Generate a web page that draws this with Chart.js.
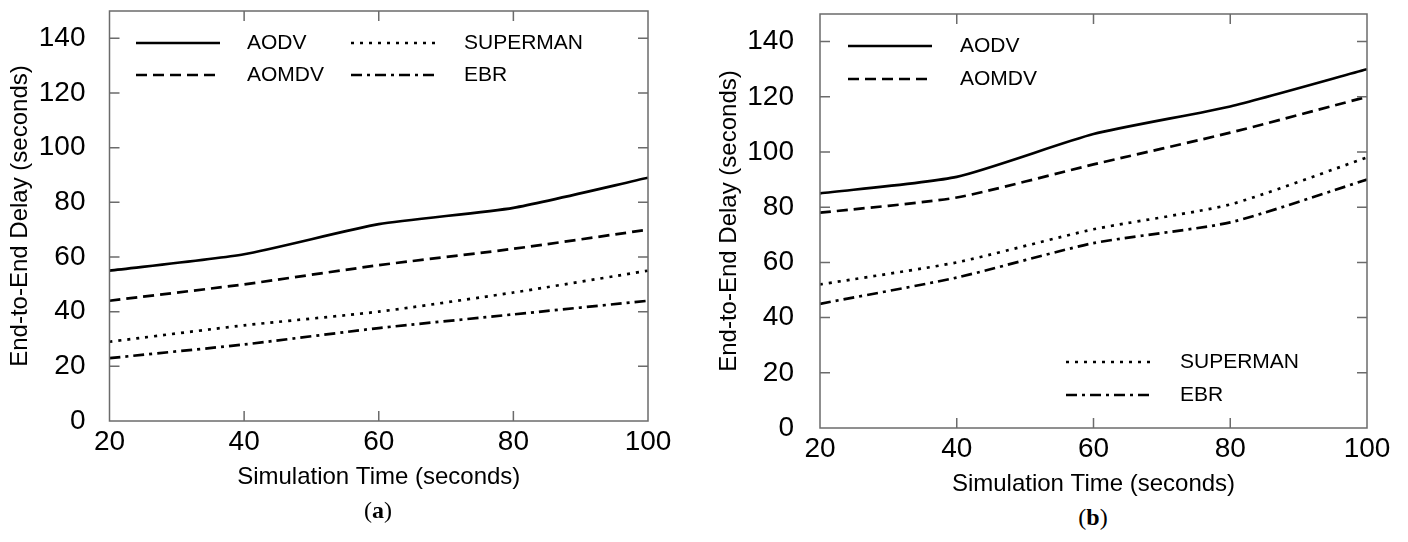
<!DOCTYPE html>
<html>
<head>
<meta charset="utf-8">
<script src="https://cdn.jsdelivr.net/npm/chart.js@4"></script>
<style>
    body { margin: 0; background: #fff; width: 1408px; height: 542px; position: relative; overflow: hidden; }
    .panel { position: absolute; top: 0; height: 500px; }
    .caption { position: absolute; font-family: "Liberation Serif", "DejaVu Serif", serif; font-size: 24px; color: #000; transform: translate(-50%, -50%); }
    .caption b { font-weight: bold; }
</style>
</head>
<body>
<div class="panel" style="left:0;width:700px"><canvas id="chartA" width="700" height="500"></canvas></div>
<div class="panel" style="left:700px;width:708px"><canvas id="chartB" width="708" height="500"></canvas></div>
<div class="caption" style="left:378px;top:510px">(<b>a</b>)</div>
<div class="caption" style="left:1093px;top:517px">(<b>b</b>)</div>
<script>
// simulation time (x axis)
const simTime = [20, 40, 60, 80, 100];
const seriesNames = ['AODV', 'AOMDV', 'SUPERMAN', 'EBR'];

// panel (a)
const aodvA = [55, 61, 72, 78, 89];
const aomdvA = [44, 50, 57, 63, 70];
const supermanA = [29, 35, 40, 47, 55];
const ebrA = [23, 28, 34, 39, 44];

// panel (b)
const aodvB = [85, 91, 106.5, 116.5, 130];
const aomdvB = [78, 83.5, 95.5, 107, 120];
const supermanB = [52, 60, 72, 81, 98];
const ebrB = [45, 54.5, 67, 74.5, 90];

const yMax = 150;
const yStep = 20;
const xTitle = 'Simulation Time (seconds)';
const yTitle = 'End-to-End Delay (seconds)';

const FONT = '"Liberation Sans", Arial, sans-serif';
const AXIS_COLOR = '#6b6b6b';

const dashes = [[], [11, 6], [3, 6], [11, 5, 3, 5]];

function toPoints(vals) {
    return vals.map((v, i) => ({ x: simTime[i], y: v }));
}

function makeDatasets(series) {
    return series.map((vals, i) => ({
        label: seriesNames[i],
        data: toPoints(vals),
        borderColor: '#000',
        borderWidth: 2.7,
        borderDash: dashes[i],
        borderCapStyle: 'butt',
        pointRadius: 0,
        tension: 0.2,
        fill: false,
    }));
}

// box + inward ticks on all four sides
const frameTicks = {
    id: 'frameTicks',
    afterDatasetsDraw(chart) {
        const { ctx, chartArea: a, scales } = chart;
        const len = 10;
        ctx.save();
        ctx.strokeStyle = AXIS_COLOR;
        ctx.lineWidth = 1.5;
        ctx.setLineDash([]);
        ctx.strokeRect(a.left, a.top, a.right - a.left, a.bottom - a.top);
        ctx.beginPath();
        scales.y.ticks.forEach(t => {
            const y = scales.y.getPixelForValue(t.value);
            if (t.value === 0) return;
            ctx.moveTo(a.left, y); ctx.lineTo(a.left + len, y);
            ctx.moveTo(a.right, y); ctx.lineTo(a.right - len, y);
        });
        scales.x.ticks.forEach(t => {
            const x = scales.x.getPixelForValue(t.value);
            if (t.value === simTime[0] || t.value === simTime[simTime.length - 1]) return;
            ctx.moveTo(x, a.top); ctx.lineTo(x, a.top + len);
            ctx.moveTo(x, a.bottom); ctx.lineTo(x, a.bottom - len);
        });
        ctx.stroke();
        ctx.restore();
    }
};

// legend drawn inside the plot area
const innerLegend = {
    id: 'innerLegend',
    afterDatasetsDraw(chart, args, opts) {
        const { ctx } = chart;
        ctx.save();
        ctx.font = '21px ' + FONT;
        ctx.textBaseline = 'middle';
        ctx.fillStyle = '#000';
        (opts.items || []).forEach(it => {
            const ds = chart.data.datasets[it.ds];
            ctx.strokeStyle = ds.borderColor;
            ctx.lineWidth = ds.borderWidth;
            ctx.lineCap = 'butt';
            ctx.setLineDash(ds.borderDash);
            ctx.beginPath();
            ctx.moveTo(it.x, it.y);
            ctx.lineTo(it.x + opts.sampleLen, it.y);
            ctx.stroke();
            ctx.setLineDash([]);
            ctx.fillText(ds.label, it.x + it.textOff, it.y);
        });
        ctx.restore();
    }
};

function buildChart(id, series, cfg) {
    const ctx = document.getElementById(id);
    return new Chart(ctx, {
        type: 'line',
        data: { datasets: makeDatasets(series) },
        plugins: [frameTicks, innerLegend],
        options: {
            responsive: false,
            animation: false,
            layout: { padding: { left: 0, top: cfg.top, right: cfg.right, bottom: 0 } },
            plugins: {
                legend: { display: false },
                tooltip: { enabled: false },
                innerLegend: { sampleLen: 84, items: cfg.legend },
            },
            scales: {
                x: {
                    type: 'linear',
                    min: simTime[0],
                    max: simTime[simTime.length - 1],
                    grid: { display: false },
                    border: { display: false },
                    ticks: {
                        stepSize: 20,
                        padding: cfg.xPad,
                        color: '#000',
                        font: { family: FONT, size: 28 },
                    },
                    title: {
                        display: true,
                        text: xTitle,
                        color: '#000',
                        font: { family: FONT, size: 24 },
                        padding: { top: 0, bottom: cfg.xTitlePad },
                    },
                    afterFit(scale) {
                        scale.height = cfg.xHeight;
                        scale.paddingLeft = 0;
                        scale.paddingRight = 0;
                    },
                },
                y: {
                    min: 0,
                    max: yMax,
                    grid: { display: false },
                    border: { display: false },
                    ticks: {
                        stepSize: yStep,
                        includeBounds: false,
                        padding: cfg.yPad,
                        color: '#000',
                        font: { family: FONT, size: 28 },
                    },
                    title: {
                        display: true,
                        text: yTitle,
                        color: '#000',
                        font: { family: FONT, size: 24 },
                        padding: { top: cfg.yTitlePad, bottom: 0 },
                    },
                    afterFit(scale) {
                        scale.width = cfg.yWidth;
                        scale.paddingTop = 0;
                        scale.paddingBottom = 0;
                    },
                },
            },
        },
    });
}

buildChart('chartA', [aodvA, aomdvA, supermanA, ebrA], {
    top: 11, right: 52, xHeight: 79, yWidth: 109.5,
    xPad: -4, yPad: 16, xTitlePad: 8, yTitlePad: 6,
    legend: [
        { ds: 0, x: 136, y: 43, textOff: 111 },
        { ds: 1, x: 136, y: 75, textOff: 111 },
        { ds: 2, x: 351, y: 43, textOff: 113 },
        { ds: 3, x: 351, y: 75, textOff: 113 },
    ],
});

buildChart('chartB', [aodvB, aomdvB, supermanB, ebrB], {
    top: 14, right: 41, xHeight: 72, yWidth: 120,
    xPad: -4, yPad: 18, xTitlePad: 1, yTitlePad: 15,
    legend: [
        { ds: 0, x: 148, y: 46, textOff: 112 },
        { ds: 1, x: 148, y: 79, textOff: 112 },
        { ds: 2, x: 366, y: 362, textOff: 114 },
        { ds: 3, x: 366, y: 395, textOff: 114 },
    ],
});
</script>
</body>
</html>
